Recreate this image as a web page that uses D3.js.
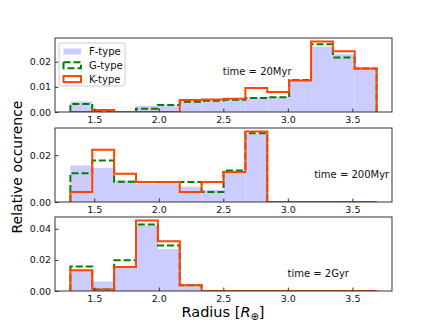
<!DOCTYPE html>
<meta charset="utf-8">
<script src="https://d3js.org/d3.v7.min.js"></script>
<style>
  body { margin: 0; background: #fff; }
  text { font-family: "DejaVu Sans", sans-serif; }
</style>
<div id="my_dataviz"></div>
<script>

// bin edges (Earth radii), 14 bins
var edges = [1.315, 1.4845, 1.654, 1.8235, 1.993, 2.1625, 2.332, 2.5015,
             2.671, 2.8405, 3.01, 3.18, 3.349, 3.518, 3.688];

// 20 Myr
var f20 = [0.0042, 0.0005, 0, 0.0024, 0.0026, 0.0042, 0.0046, 0.0048, 0.0058, 0.0060, 0.0123, 0.0260, 0.0229, 0.0173];
var g20 = [0.0032, 0.0005, 0, 0.0013, 0.0028, 0.0041, 0.0045, 0.0049, 0.0056, 0.0059, 0.0127, 0.0269, 0.0217, 0.0173];
var k20 = [0, 0.0008, 0, 0, 0, 0.0048, 0.0050, 0.0053, 0.0095, 0.0079, 0.0125, 0.0280, 0.0241, 0.0173];

// 200 Myr
var f200 = [0.0156, 0.0145, 0.0092, 0.0078, 0.0080, 0.0065, 0.0052, 0.0130, 0.0290, 0, 0, 0, 0, 0];
var g200 = [0.0123, 0.0177, 0.0087, 0.0085, 0.0085, 0.0085, 0.0043, 0.0135, 0.0294, 0, 0, 0, 0, 0];
var k200 = [0.0043, 0.0223, 0.0121, 0.0085, 0.0085, 0.0043, 0.0085, 0.0128, 0.0301, 0, 0, 0, 0, 0];

// 2 Gyr
var f2g = [0.0135, 0.0062, 0.0160, 0.0420, 0.0270, 0.0030, 0, 0, 0, 0, 0, 0, 0, 0];
var g2g = [0.0158, 0.0010, 0.0197, 0.0427, 0.0293, 0.0037, 0, 0, 0, 0, 0, 0, 0, 0];
var k2g = [0.0133, 0.0010, 0.0154, 0.0453, 0.0320, 0.0037, 0, 0, 0, 0, 0, 0, 0, 0];

var xTicks = [1.5, 2.0, 2.5, 3.0, 3.5];

var panels = [
  {f: f20,  g: g20,  k: k20,  label: "time = 20Myr",  ticks: [0, 0.01, 0.02],  lx: 0.498, ly: 0.455, legend: true},
  {f: f200, g: g200, k: k200, label: "time = 200Myr", ticks: [0, 0.02],        lx: 0.769, ly: 0.626},
  {f: f2g,  g: g2g,  k: k2g,  label: "time = 2Gyr",   ticks: [0, 0.02, 0.04],  lx: 0.690, ly: 0.760}
];

var W = 436, H = 327;
var left = 55, right = 392, ph = 74;
var tops = [38, 128, 217];

var svg = d3.select("#my_dataviz")
  .append("svg")
    .attr("width", W)
    .attr("height", H);

var x = d3.scaleLinear()
  .domain([1.196, 3.807])
  .range([left, right]);

var blueFill = "#ccccff";
var green = "#008000";
var orange = "#ff4500";

// step outline like matplotlib histtype='step'
function stepPath(vals, y) {
  var p = d3.path();
  p.moveTo(x(edges[0]), y(0));
  vals.forEach(function(v, i) {
    p.lineTo(x(edges[i]), y(v));
    p.lineTo(x(edges[i + 1]), y(v));
  });
  p.lineTo(x(edges[edges.length - 1]), y(0));
  return p.toString();
}

panels.forEach(function(d, pi) {
  var top = tops[pi];
  var ymax = d3.max(d.f.concat(d.g, d.k)) * 1.05;
  var y = d3.scaleLinear()
    .domain([0, ymax])
    .range([top + ph, top]);

  var g = svg.append("g");

  g.append("defs").append("clipPath")
      .attr("id", "clip" + pi)
    .append("rect")
      .attr("x", left).attr("y", top)
      .attr("width", right - left).attr("height", ph);

  var plot = g.append("g").attr("clip-path", "url(#clip" + pi + ")");

  // F-type bars
  plot.selectAll("rect.bar")
    .data(d.f)
    .enter()
    .append("rect")
      .attr("class", "bar")
      .attr("x", function(v, i) { return x(edges[i]); })
      .attr("width", function(v, i) { return x(edges[i + 1]) - x(edges[i]); })
      .attr("y", function(v) { return y(v); })
      .attr("height", function(v) { return y(0) - y(v); })
      .attr("fill", blueFill);

  plot.append("path")
    .attr("d", stepPath(d.g, y))
    .attr("fill", "none")
    .attr("stroke", green)
    .attr("stroke-width", 2)
    .attr("stroke-dasharray", "7,3");

  plot.append("path")
    .attr("d", stepPath(d.k, y))
    .attr("fill", "none")
    .attr("stroke", orange)
    .attr("stroke-width", 2);

  // axes (ticks inward)
  var xAxis = g.append("g")
    .attr("transform", "translate(0," + (top + ph) + ")")
    .call(d3.axisBottom(x).tickValues(xTicks).tickFormat(d3.format(".1f"))
      .tickSizeInner(-3.5).tickSizeOuter(0).tickPadding(4));
  var yAxis = g.append("g")
    .attr("transform", "translate(" + left + ",0)")
    .call(d3.axisLeft(y).tickValues(d.ticks).tickFormat(d3.format(".2f"))
      .tickSizeInner(-3.5).tickSizeOuter(0).tickPadding(4));
  [xAxis, yAxis].forEach(function(a) {
    a.select(".domain").remove();
    a.selectAll("line").attr("stroke", "#333");
    a.selectAll("text").style("font-size", "9.5px").attr("fill", "#111");
  });

  g.append("rect")
    .attr("x", left).attr("y", top)
    .attr("width", right - left).attr("height", ph)
    .attr("fill", "none")
    .attr("stroke", "#333")
    .attr("stroke-width", 1);

  g.append("text")
    .attr("x", left + d.lx * (right - left))
    .attr("y", top + d.ly * ph)
    .attr("dy", "0.35em")
    .style("font-size", "10px")
    .attr("fill", "#111")
    .text(d.label);

  if (d.legend) {
    var lg = g.append("g");
    lg.append("rect")
      .attr("x", 59).attr("y", 43)
      .attr("width", 66).attr("height", 43)
      .attr("rx", 2)
      .attr("fill", "rgba(255,255,255,0.8)")
      .attr("stroke", "#ccc");
    var items = [
      {name: "F-type", kind: "f"},
      {name: "G-type", kind: "g"},
      {name: "K-type", kind: "k"}
    ];
    items.forEach(function(it, i) {
      var cy = 51.5 + i * 13.8;
      var r = lg.append("rect")
        .attr("x", 63.5).attr("y", cy - 3)
        .attr("width", 17.5).attr("height", 6);
      if (it.kind === "f") r.attr("fill", blueFill);
      if (it.kind === "g") r.attr("fill", "none").attr("stroke", green)
        .attr("stroke-width", 2).attr("stroke-dasharray", "7,3");
      if (it.kind === "k") r.attr("fill", "none").attr("stroke", orange)
        .attr("stroke-width", 2);
      lg.append("text")
        .attr("x", 89).attr("y", cy)
        .attr("dy", "0.35em")
        .style("font-size", "10px")
        .attr("fill", "#111")
        .text(it.name);
    });
  }
});

// x label: Radius [R_⊕]
var xl = svg.append("text")
  .attr("x", 223).attr("y", 316.5)
  .attr("text-anchor", "middle")
  .style("font-size", "14.5px");
xl.append("tspan").text("Radius [");
xl.append("tspan").style("font-style", "italic").text("R");
xl.append("tspan").style("font-size", "10px").attr("dy", "3").text("⊕");
xl.append("tspan").attr("dy", "-3").text("]");

svg.append("text")
  .attr("transform", "translate(22,167) rotate(-90)")
  .attr("text-anchor", "middle")
  .style("font-size", "14px")
  .text("Relative occurence");

</script>
